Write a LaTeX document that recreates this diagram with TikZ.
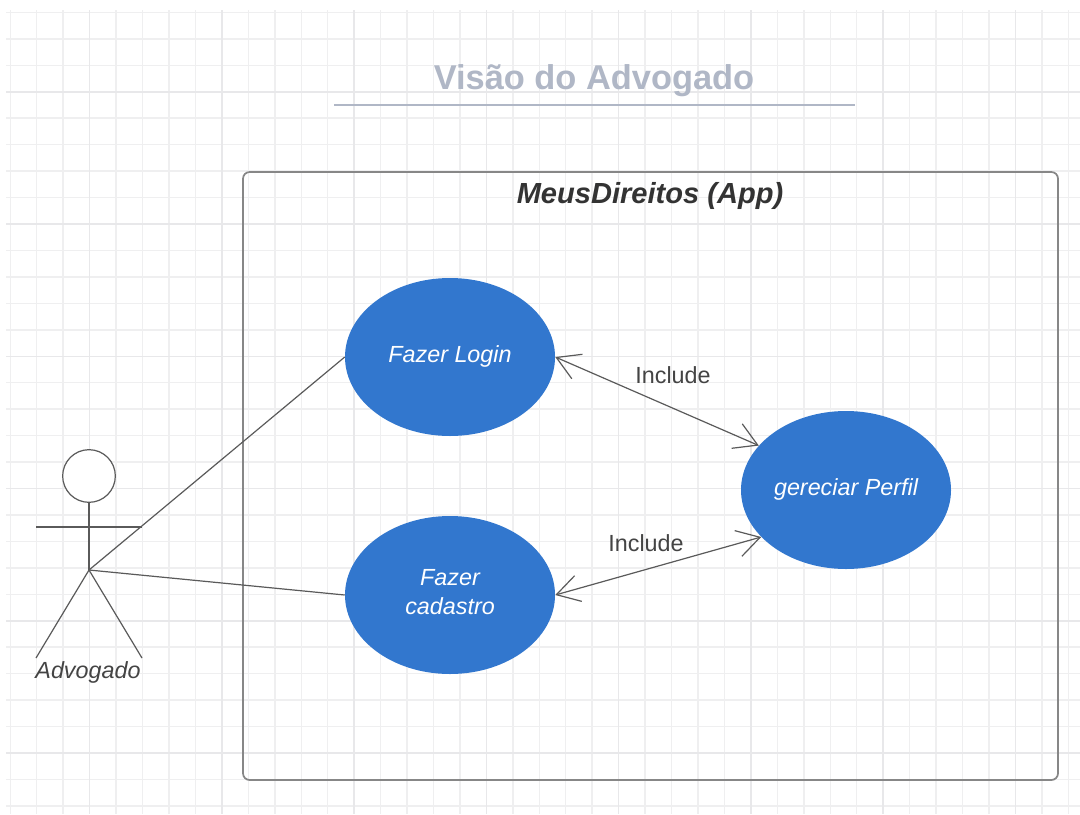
\documentclass[tikz,border=0pt]{standalone}
\usepackage{fontspec}
\setmainfont{Liberation Sans}
\usepackage{tikz}
\usetikzlibrary{shapes.geometric,arrows.meta}

\definecolor{gridminor}{HTML}{EFEFF0}
\definecolor{gridmajor}{HTML}{E8E8EA}
\definecolor{casefill}{HTML}{3277CE}
\definecolor{titlegray}{HTML}{B0B7C6}
\definecolor{framegray}{HTML}{878787}
\definecolor{linegray}{HTML}{5A5A5A}
\definecolor{textgray}{HTML}{444444}

\tikzset{
  usecase/.style={ellipse, fill=casefill, text=white, minimum width=157.5pt, minimum height=118.5pt,
    inner sep=0pt, align=center, font=\fontsize{17.5pt}{22pt}\selectfont\itshape},
  includelabel/.style={text=textgray, inner sep=0pt, font=\fontsize{17.5pt}{22pt}\selectfont},
  actorline/.style={draw=linegray, line width=0.9pt},
  includearrow/.style={draw=linegray, line width=0.9pt, {Straight Barb[length=17pt,width=20pt]}-{Straight Barb[length=17pt,width=20pt]}},
}

\begin{document}
\begin{tikzpicture}[x=0.75pt, y=-0.75pt]

  \newcommand\X{26.45}
  \newcommand\Y{26.45}

  \useasboundingbox[fill=white] (0, 0) rectangle (1080, 814);

  % grid
  \foreach \i in {0,...,40}
    \draw[gridminor, line width=1.1pt] (10.3+\i*\X, 10) -- (10.3+\i*\X, 814);
  \foreach \j in {0,...,30}
    \draw[gridminor, line width=1.1pt] (6, 12.4+\j*\Y) -- (1080, 12.4+\j*\Y);
  \foreach \i in {0,...,7}
    \draw[gridmajor, line width=1.2pt] (89.6+\i*5*\X, 10) -- (89.6+\i*5*\X, 814);
  \foreach \j in {0,...,5}
    \draw[gridmajor, line width=1.2pt] (6, 91.8+\j*5*\Y) -- (1080, 91.8+\j*5*\Y);

  % title
  \node[text=titlegray, inner sep=0pt, font=\fontsize{25.8pt}{30pt}\selectfont\bfseries] (title) at (594, 81) {Visão do Advogado};
  \coordinate (ruleleft) at (334, 105);
  \coordinate (ruleright) at (855, 105);
  \draw[titlegray, line width=1.5pt] (ruleleft) -- (ruleright);

  % system frame
  \draw[framegray, line width=1.3pt, rounded corners=5pt] (243, 172) rectangle (1058, 780);
  \node[text=black!80, inner sep=0pt, font=\fontsize{21.8pt}{26pt}\selectfont\bfseries\itshape] (system) at (650, 196) {MeusDireitos (App)};

  % actor
  \node[circle, draw=linegray, line width=0.9pt, fill=white, minimum size=39.5pt, inner sep=0pt] (head) at (89, 476) {};
  \coordinate (hip) at (89, 570);
  \coordinate (armleft) at (36, 527);
  \coordinate (armright) at (142, 527);
  \coordinate (footleft) at (36, 658);
  \coordinate (footright) at (142, 658);
  \draw[actorline] (head) -- (hip);
  \draw[actorline] (armleft) -- (armright);
  \draw[actorline] (footleft) -- (hip) -- (footright);
  \node[text=textgray, inner sep=0pt, font=\fontsize{17.5pt}{22pt}\selectfont\itshape] (actor) at (88, 672) {Advogado};

  % use cases
  \node[usecase, text depth=4.4pt] (login) at (450, 357) {Fazer Login};
  \node[usecase, text depth=4.5pt] (cadastro) at (450, 595) {Fazer\\cadastro};
  \node[usecase, text depth=5pt] (perfil) at (846, 490) {gereciar Perfil};

  \draw[actorline] (hip) -- (login.west);
  \draw[actorline] (hip) -- (cadastro.west);

  \draw[includearrow] (login.east) -- (perfil.153.7); % login<->perfil
  \draw[includearrow] (cadastro.east) -- (perfil.209.7); % cadastro<->perfil

  \node[includelabel] (includetop) at (673, 375) {Include};
  \node[includelabel] (includebottom) at (646, 543) {Include};

\end{tikzpicture}
\end{document}
